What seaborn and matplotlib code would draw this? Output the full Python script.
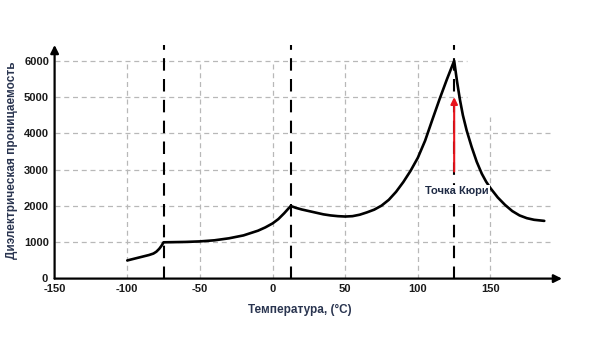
import numpy as np
import pandas as pd
import seaborn as sns
import matplotlib
matplotlib.use("Agg")
import matplotlib.pyplot as plt

# Data
temps = [-100, -95, -90, -85, -82, -80, -78, -76.5, -75,
         -70, -60, -50, -40, -30, -20, -10, -5, 0, 4, 8, 12.5,
         16, 20, 25, 30, 35, 40, 45, 50, 55, 60, 65, 70, 75, 80, 85,
         90, 95, 100, 105, 110, 115, 120, 125,
         127, 129, 131, 133.6, 137, 140.5, 144, 147, 150, 155, 160, 165,
         170, 175, 180, 187]
permittivity = [500, 550, 600, 650, 690, 740, 820, 900, 1000,
                1003, 1010, 1025, 1055, 1110, 1190, 1320, 1410, 1520, 1640, 1800, 2000,
                1950, 1905, 1860, 1815, 1770, 1740, 1720, 1710, 1720, 1760, 1825, 1900, 2010, 2170, 2390,
                2660, 2970, 3330, 3800, 4380, 4950, 5490, 6000,
                5420, 4920, 4500, 4080, 3630, 3220, 2890, 2670, 2490, 2235, 2030, 1860,
                1740, 1665, 1620, 1590]
phase_lines = [-75, 12.5, 125]
x_ticks = [-150, -100, -50, 0, 50, 100, 150]
y_ticks = [1000, 2000, 3000, 4000, 5000, 6000]
curie_label = "Точка Кюри"
xlabel = "Температура, (°C)"
ylabel = "Диэлектрическая проницаемость"

df = pd.DataFrame({"T": temps, "eps": permittivity})

sns.set_theme(style="white")
plt.rcParams['font.family'] = ['Liberation Sans', 'DejaVu Sans']

fig = plt.figure(figsize=(5.97, 3.51), dpi=100)
W, H = 597, 351
x0, x1 = 54.6, 562
y0, y1 = 278.6, 45
ax = fig.add_axes([x0 / W, (H - y0) / H, (x1 - x0) / W, (y0 - y1) / H])
xmin, xmax = -150, -150 + (x1 - x0) / 1.453
ymin, ymax = 0, (y0 - y1) / 0.0363
ax.set_xlim(xmin, xmax)
ax.set_ylim(ymin, ymax)
for s in ax.spines.values():
    s.set_visible(False)

grid_kw = dict(color="#b8b8b8", lw=0.9, ls=(0, (4, 3)), zorder=1)
# horizontal grid
for y in y_ticks:
    xe = 134 if y >= 5000 else 193
    ax.hlines(y, xmin, xe, **grid_kw)
# vertical grid
for x in x_ticks[1:]:
    ye = 4450 if x == 150 else 6000
    ax.vlines(x, 0, ye, **grid_kw)

# phase transition lines
for x in phase_lines:
    ax.vlines(x, 0, 6450, color="black", lw=1.5, ls=(0, (6, 4)), zorder=2)

sns.lineplot(data=df, x="T", y="eps", ax=ax, color="black", lw=1.9,
             sort=False, estimator=None, zorder=3)
for l in ax.lines:
    l.set_solid_joinstyle("round")

# axes arrows
ax.annotate("", xy=(xmax, 0), xytext=(xmin, 0),
            arrowprops=dict(arrowstyle="-|>", lw=1.6, color="black",
                            mutation_scale=12, shrinkA=0, shrinkB=0),
            annotation_clip=False, zorder=4)
ax.annotate("", xy=(xmin, ymax), xytext=(xmin, 0),
            arrowprops=dict(arrowstyle="-|>", lw=1.6, color="black",
                            mutation_scale=12, shrinkA=0, shrinkB=0),
            annotation_clip=False, zorder=4)

# Curie arrow
ax.annotate("", xy=(125, 5000), xytext=(125, 2950),
            arrowprops=dict(arrowstyle="-|>", lw=1.5, color="#e8141c",
                            mutation_scale=10, shrinkA=0, shrinkB=0), zorder=5)
ax.text(126.5, 2410, curie_label, ha="center", va="center", fontsize=8,
        fontweight="bold", color="#1f2b45",
        bbox=dict(facecolor="white", edgecolor="none", pad=1), zorder=6)

tick_color = "#1a1a1a"
ax.set_xticks(x_ticks)
ax.set_xticklabels([str(v) for v in x_ticks], fontsize=8, fontweight="bold", color=tick_color)
ax.set_yticks(y_ticks)
ax.set_yticklabels([str(v) for v in y_ticks], fontsize=8, fontweight="bold", color=tick_color)
ax.tick_params(axis="both", length=0, pad=4)
ax.text(-154.5, 0, "0", ha="right", va="center", fontsize=8, fontweight="bold",
        color=tick_color, transform=ax.transData)
ax.set_xlabel("")
ax.set_ylabel("")

fig.text(300 / W, 1 - 310 / H, xlabel, ha="center", va="center", fontsize=8.5,
         fontweight="bold", color="#2a3550")
fig.text(12 / W, 1 - 160 / H, ylabel, ha="center", va="center", rotation=90,
         fontsize=8.5, fontweight="bold", color="#2a3550")

fig.savefig("out.png", dpi=100, facecolor="white")
